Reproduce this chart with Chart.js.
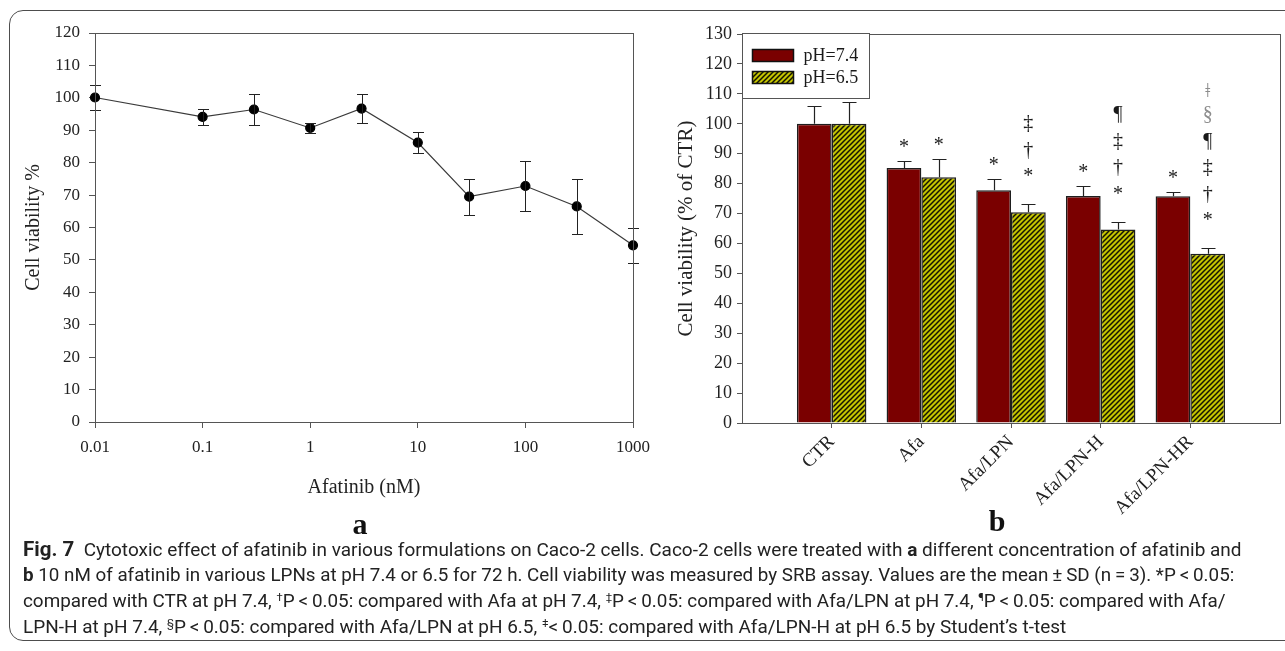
<!DOCTYPE html>
<html>
<head>
<meta charset="utf-8">
<script src="https://cdn.jsdelivr.net/npm/chart.js@4.4.1/dist/chart.umd.min.js"></script>
<style>
  html, body { margin: 0; padding: 0; background: #fff; }
  body { width: 1285px; height: 651px; position: relative; overflow: hidden; }
  #figFrame { position: absolute; left: 9px; top: 10px; width: 1290px; height: 631px;
              border: 1.5px solid #4d4d4d; border-radius: 14px; box-sizing: border-box; }
  canvas { position: absolute; top: 0; }
  #doseChart { left: 0; }
  #formChart { left: 660px; }
  .panel { position: absolute; font: bold 30px "Liberation Serif", serif; color: #111;
           transform: translate(-50%, -50%); line-height: 1; }
  .cap { position: absolute; left: 23px; white-space: nowrap; font: 18.5px Roboto, "Open Sans", sans-serif;
         color: #222; line-height: 26px; transform-origin: 0 50%; }
  .cap b { font-weight: 700; }
  .cap sup { font-size: 11px; vertical-align: 6px; line-height: 0; }
</style>
</head>
<body>
<div id="figFrame"></div>
<canvas id="doseChart" width="660" height="540"></canvas>
<canvas id="formChart" width="625" height="540"></canvas>
<div class="panel" style="left:360px; top:524px;">a</div>
<div class="panel" style="left:997px; top:521px;">b</div>

<div class="cap" data-w="1219" style="top:536px;"><b style="font-size:20px">Fig. 7</b>&nbsp; Cytotoxic effect of afatinib in various formulations on Caco-2 cells. Caco-2 cells were treated with <b>a</b> different concentration of afatinib and</div>
<div class="cap" data-w="1211" style="top:562px;"><b>b</b> 10 nM of afatinib in various LPNs at pH 7.4 or 6.5 for 72 h. Cell viability was measured by SRB assay. Values are the mean&#8201;±&#8201;SD (n&#8201;=&#8201;3). *P&#8201;&lt;&#8201;0.05:</div>
<div class="cap" data-w="1202" style="top:588px;">compared with CTR at pH 7.4, <sup>†</sup>P&#8201;&lt;&#8201;0.05: compared with Afa at pH 7.4, <sup>‡</sup>P&#8201;&lt;&#8201;0.05: compared with Afa/LPN at pH 7.4, <sup>¶</sup>P&#8201;&lt;&#8201;0.05: compared with Afa/</div>
<div class="cap" data-w="1043" style="top:614px;">LPN-H at pH 7.4, <sup>§</sup>P&#8201;&lt;&#8201;0.05: compared with Afa/LPN at pH 6.5, <sup>ǂ</sup>&lt;&#8201;0.05: compared with Afa/LPN-H at pH 6.5 by Student’s t-test</div>

<script>
// ---- Panel a: dose response of afatinib ----
const concentrations = [0.01, 0.1, 0.3, 1, 3, 10, 30, 100, 300, 1000];   // nM
const viability      = [100.1, 94.1, 96.4, 90.7, 96.7, 86.2, 69.5, 72.8, 66.5, 54.5];
const viabilitySD    = [3.8, 2.5, 4.7, 1.6, 4.6, 3.3, 5.6, 7.7, 8.6, 5.4];
const doseTicks      = [0.01, 0.1, 1, 10, 100, 1000];
const doseTickLabels = ['0.01', '0.1', '1', '10', '100', '1000'];

// ---- Panel b: formulations at two pH values ----
const formulations = ['CTR', 'Afa', 'Afa/LPN', 'Afa/LPN-H', 'Afa/LPN-HR'];
const ph74   = [100, 85.2, 77.8, 75.9, 75.8];
const ph74SD = [5.9, 2.3, 3.8, 3.4, 1.4];
const ph65   = [100, 82.1, 70.4, 64.7, 56.6];
const ph65SD = [7.3, 6.0, 2.7, 2.5, 1.8];
const sig74  = [[], ['*'], ['*'], ['*'], ['*']];
const sig65  = [[], ['*'], ['*', '†', '‡'], ['*', '†', '‡', '¶'], ['*', '†', '‡', '¶', '§', 'ǂ']];

const SERIF = '"Liberation Serif", "Times New Roman", serif';
const INK = '#1a1a1a';
const AXIS = '#555';

// closed box around the plotting area
const plotFrame = {
  id: 'plotFrame',
  afterDraw(chart) {
    const { ctx, chartArea: a } = chart;
    ctx.save();
    ctx.strokeStyle = AXIS;
    ctx.lineWidth = 1;
    ctx.strokeRect(Math.round(a.left) + 0.5, Math.round(a.top) + 0.5,
                   Math.round(a.right - a.left), Math.round(a.bottom - a.top));
    ctx.restore();
  }
};

// SD whiskers; two-sided for points, upper only for bars
const errorBars = {
  id: 'errorBars',
  afterDatasetsDraw(chart, args, opts) {
    const { ctx } = chart;
    const yScale = chart.scales.y;
    ctx.save();
    ctx.strokeStyle = opts.color || INK;
    ctx.lineWidth = opts.width || 1;
    chart.data.datasets.forEach((ds, di) => {
      if (!ds.errors) return;
      chart.getDatasetMeta(di).data.forEach((el, i) => {
        const raw = ds.data[i];
        const mean = raw !== null && typeof raw === 'object' ? raw.y : raw;
        const sd = ds.errors[i];
        if (mean == null || sd == null) return;
        const x = Math.round(el.x) + 0.5;
        const top = Math.round(yScale.getPixelForValue(mean + sd)) + 0.5;
        const bottom = opts.twoSided ? Math.round(yScale.getPixelForValue(mean - sd)) + 0.5
                                     : yScale.getPixelForValue(mean);
        const c = opts.cap;
        ctx.beginPath();
        ctx.moveTo(x, top); ctx.lineTo(x, bottom);
        ctx.moveTo(x - c, top); ctx.lineTo(x + c, top);
        if (opts.twoSided) { ctx.moveTo(x - c, bottom); ctx.lineTo(x + c, bottom); }
        ctx.stroke();
      });
    });
    ctx.restore();
  }
};

// stacked significance symbols above each whisker
const sigMarks = {
  id: 'sigMarks',
  afterDatasetsDraw(chart, args, opts) {
    const { ctx } = chart;
    const yScale = chart.scales.y;
    ctx.save();
    ctx.font = opts.font;
    ctx.textAlign = 'center';
    ctx.textBaseline = 'alphabetic';
    chart.data.datasets.forEach((ds, di) => {
      if (!ds.marks) return;
      chart.getDatasetMeta(di).data.forEach((el, i) => {
        const marks = ds.marks[i];
        if (!marks || !marks.length) return;
        const top = yScale.getPixelForValue(ds.data[i] + ds.errors[i]);
        let cursor = top - (marks.length > 1 ? opts.gapMulti : opts.gapSingle);
        marks.forEach(g => {
          const m = ctx.measureText(g);
          const asc = m.actualBoundingBoxAscent, desc = m.actualBoundingBoxDescent;
          ctx.fillStyle = opts.faint.includes(g) ? opts.faintColor : INK;
          ctx.fillText(g, el.x, cursor - desc);
          cursor -= asc + desc + opts.step;
        });
      });
    });
    ctx.restore();
  }
};

// boxed legend sitting in the upper-left corner of the plot
const boxLegend = {
  id: 'boxLegend',
  afterDraw(chart, args, o) {
    const { ctx, chartArea: a } = chart;
    const x = Math.round(a.left) + 0.5, y = Math.round(a.top) - 0.5;
    ctx.save();
    ctx.fillStyle = '#fff';
    ctx.fillRect(x, y, o.width, o.height);
    ctx.strokeStyle = AXIS;
    ctx.lineWidth = 1;
    ctx.strokeRect(x, y, o.width, o.height);
    ctx.font = o.font;
    ctx.textBaseline = 'middle';
    chart.data.datasets.forEach((ds, i) => {
      const cy = y + o.firstRow + i * o.rowGap;
      ctx.fillStyle = ds.backgroundColor;
      ctx.fillRect(x + o.swatchX, cy - 6, o.swatchW, 12);
      ctx.strokeStyle = '#111';
      ctx.lineWidth = 1.5;
      ctx.strokeRect(x + o.swatchX, cy - 6, o.swatchW, 12);
      ctx.fillStyle = INK;
      ctx.fillText(ds.label, x + o.textX, cy + 1);
    });
    ctx.restore();
  }
};

function hatchPattern() {
  const s = 5;
  const c = document.createElement('canvas');
  c.width = s; c.height = s;
  const g = c.getContext('2d');
  g.fillStyle = '#c4c400';
  g.fillRect(0, 0, s, s);
  g.strokeStyle = '#141400';
  g.lineWidth = 1.5;
  g.beginPath();
  g.moveTo(-1, s + 1); g.lineTo(s + 1, -1);
  g.moveTo(-1, 1); g.lineTo(1, -1);
  g.moveTo(s - 1, s + 1); g.lineTo(s + 1, s - 1);
  g.stroke();
  return g.createPattern(c, 'repeat');
}

// ---- panel a ----
new Chart(document.getElementById('doseChart'), {
  type: 'line',
  data: {
    datasets: [{
      label: 'Cell viability %',
      data: concentrations.map((c, i) => ({ x: c, y: viability[i] })),
      errors: viabilitySD,
      borderColor: '#3a3a3a',
      borderWidth: 1.2,
      pointRadius: 4.5,
      pointBackgroundColor: '#000',
      pointBorderColor: '#000',
      tension: 0,
      clip: false
    }]
  },
  options: {
    responsive: false,
    animation: false,
    devicePixelRatio: 1,
    layout: { padding: { top: 33, right: 27, left: 0, bottom: 0 } },
    plugins: {
      legend: { display: false },
      tooltip: { enabled: false },
      errorBars: { twoSided: true, cap: 5.5, width: 1, color: '#222' }
    },
    scales: {
      x: {
        type: 'logarithmic',
        min: 0.01, max: 1000,
        afterBuildTicks: s => { s.ticks = doseTicks.map(v => ({ value: v, major: true })); },
        afterFit: s => { s.height = 118; s.paddingLeft = 0; s.paddingRight = 0; },
        ticks: {
          callback: v => doseTickLabels[doseTicks.indexOf(v)] ?? '',
          font: { family: SERIF, size: 17 }, color: '#222',
          padding: 9, maxRotation: 0, autoSkip: false
        },
        grid: { drawOnChartArea: false, drawTicks: true, tickLength: 6, color: AXIS },
        border: { color: AXIS, width: 1 },
        title: { display: true, text: 'Afatinib (nM)', color: '#222',
                 font: { family: SERIF, size: 20 }, padding: { top: 0, bottom: 40 } }
      },
      y: {
        min: 0, max: 120,
        afterFit: s => { s.width = 95; },
        ticks: { stepSize: 10, font: { family: SERIF, size: 17 }, color: '#222', padding: 9 },
        grid: { drawOnChartArea: false, drawTicks: true, tickLength: 6, color: AXIS },
        border: { color: AXIS, width: 1 },
        title: { display: true, text: 'Cell viability %', color: '#222',
                 font: { family: SERIF, size: 20 }, padding: { top: 22, bottom: 0 } }
      }
    }
  },
  plugins: [plotFrame, errorBars]
});

// ---- panel b ----
const padEnds = arr => [null, ...arr, null];

new Chart(document.getElementById('formChart'), {
  type: 'bar',
  data: {
    labels: ['', ...formulations, ''],
    datasets: [
      { label: 'pH=7.4', data: padEnds(ph74), errors: padEnds(ph74SD), marks: padEnds(sig74),
        backgroundColor: '#7a0000', borderColor: '#1e1e1e', borderWidth: 1.5 },
      { label: 'pH=6.5', data: padEnds(ph65), errors: padEnds(ph65SD), marks: padEnds(sig65),
        backgroundColor: hatchPattern(), borderColor: '#1e1e1e', borderWidth: 1.5 }
    ]
  },
  options: {
    responsive: false,
    animation: false,
    devicePixelRatio: 1,
    categoryPercentage: 0.775,
    barPercentage: 1,
    layout: { padding: { top: 34, right: 5, left: 0, bottom: 0 } },
    plugins: {
      legend: { display: false },
      tooltip: { enabled: false },
      errorBars: { twoSided: false, cap: 7, width: 1.2, color: '#222' },
      sigMarks: { font: '20px ' + SERIF, gapSingle: 14, gapMulti: 28, step: 9.5,
                  faint: ['§', 'ǂ'], faintColor: '#8c8c8c' },
      boxLegend: { width: 127, height: 65, firstRow: 22, rowGap: 22, swatchX: 10,
                   swatchW: 41, textX: 61, font: '18px ' + SERIF }
    },
    scales: {
      x: {
        type: 'category',
        offset: false,
        afterFit: s => { s.height = 117; s.paddingLeft = 0; s.paddingRight = 0; },
        ticks: { font: { family: SERIF, size: 19 }, color: '#222', padding: 3,
                 minRotation: 45, maxRotation: 45, autoSkip: false },
        grid: { offset: false, drawOnChartArea: false, drawTicks: true, tickLength: 5,
                tickColor: c => (c.tick && c.tick.label === '') ? 'rgba(0,0,0,0)' : AXIS },
        border: { color: AXIS, width: 1 }
      },
      y: {
        min: 0, max: 130,
        afterFit: s => { s.width = 82; },
        ticks: { stepSize: 10, font: { family: SERIF, size: 18 }, color: '#222', padding: 5 },
        grid: { drawOnChartArea: false, drawTicks: true, tickLength: 5, color: AXIS },
        border: { color: AXIS, width: 1 },
        title: { display: true, text: 'Cell viability (% of CTR)', color: '#222',
                 font: { family: SERIF, size: 21 }, padding: { top: 14, bottom: 0 } }
      }
    }
  },
  plugins: [errorBars, sigMarks, plotFrame, boxLegend]
});

// fit each caption line to its column width
document.querySelectorAll('.cap').forEach(el => {
  const target = parseFloat(el.dataset.w);
  const natural = el.scrollWidth;
  el.style.transform = 'scaleX(' + (target / natural) + ')';
});
</script>
</body>
</html>
